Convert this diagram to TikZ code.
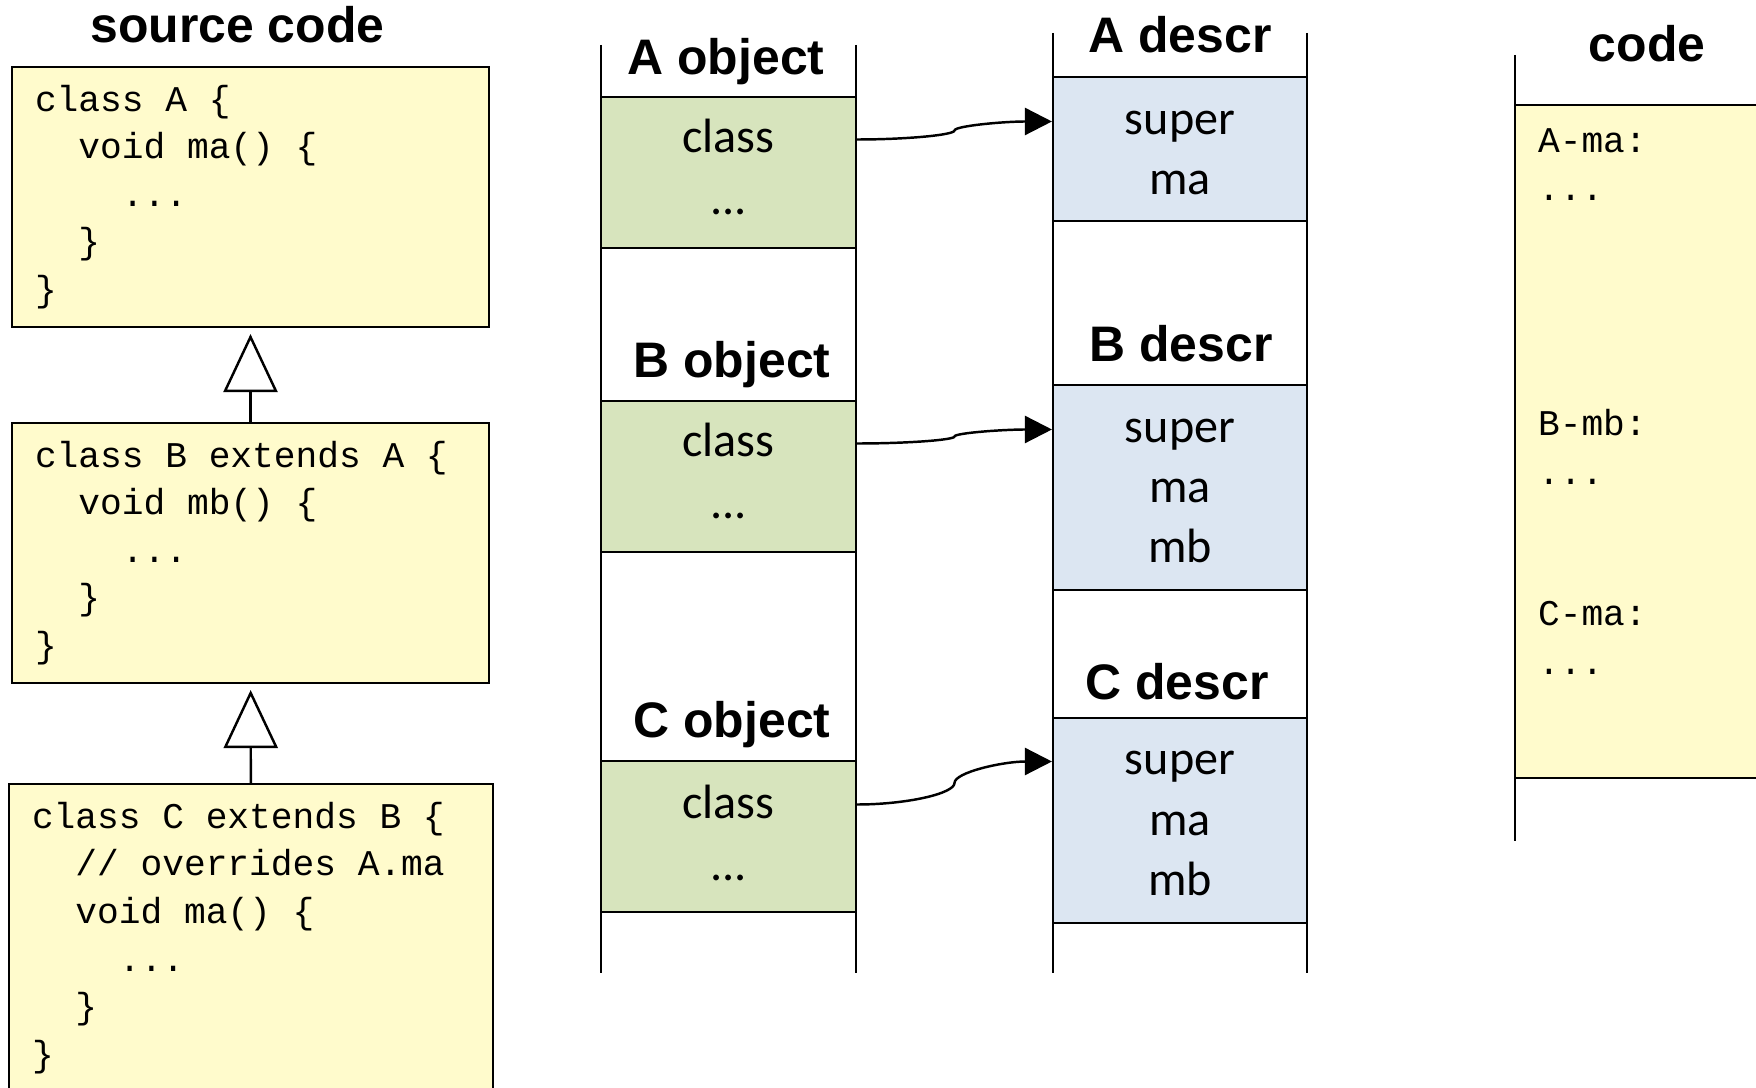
\documentclass[tikz,border=0pt]{standalone}
\usepackage{fontspec}
\setmainfont{Carlito}
\setsansfont{Liberation Sans}
\newfontfamily\codefamily{Liberation Mono}
\usepackage{tikz}
\usetikzlibrary{calc,arrows.meta}
\definecolor{codeyellow}{HTML}{FFFBCC}
\definecolor{objgreen}{HTML}{D7E4BD}
\definecolor{descblue}{HTML}{DCE6F2}
\newcommand\codefnt{\codefamily\fontsize{10.3}{13.55}\selectfont}
% curved pointer: horizontal out, vertical at the middle, horizontal in
\newcommand\ptrcurve[2]{\coordinate(mid)at($(#1)!.5!(#2)$);
  \draw[ptr](#1)..controls($(#1)!.25!(#1-|#2)$)and($(mid|-#1)!.5!(mid)$)..(mid)
    ..controls($(mid)!.5!(mid|-#2)$)and($(#2)!.25!(#2-|#1)$)..(#2);}

\begin{document}
\begin{tikzpicture}[x=0.1mm,y=-0.1mm,line width=0.6pt,
  head/.style={font=\sffamily\bfseries\fontsize{14.2}{17}\selectfont,anchor=base,inner sep=0},
  cell/.style={font=\fontsize{13.7}{16}\selectfont,anchor=base,inner sep=0,text height=3.7mm,text depth=1mm},
  lbl/.style={font=\codefnt,anchor=base west,inner sep=0},
  codebox/.style={draw,fill=codeyellow,inner sep=0},
  codetxt/.style={font=\codefnt,align=left,anchor=west,inner sep=0},
  objbox/.style={draw,fill=objgreen,minimum width=25.5mm,minimum height=15.1mm,inner sep=0},
  descbox/.style={draw,fill=descblue,minimum width=25.4mm,inner sep=0},
  inh/.style={-{Triangle[open,length=5.8mm,width=5.4mm]},line width=0.7pt,shorten >=0.6mm},
  ptr/.style={-{Triangle[length=2.7mm,width=2.7mm]},line width=0.7pt}]
\useasboundingbox(0,0)rectangle(1756,1088);
\clip(0,0)rectangle(1756,1088);

% source code
\node[head](srctitle)at(237.5,43){source code};
\node[codebox,minimum width=47.7mm,minimum height=26mm](srca)at(250.5,197){};
\node[codebox,minimum width=47.7mm,minimum height=26mm](srcb)at(250.5,553){};
\node[codebox,minimum width=48.4mm,minimum height=30.8mm](srcc)at(251,938){};
\node[codetxt](srcatxt)at([xshift=2.3mm]srca.west){class A \{\\\phantom{xx}void ma() \{\\\phantom{xxxx}...\\\phantom{xx}\}\\\}};
\node[codetxt](srcbtxt)at([xshift=2.3mm]srcb.west){class B extends A \{\\\phantom{xx}void mb() \{\\\phantom{xxxx}...\\\phantom{xx}\}\\\}};
\node[codetxt](srcctxt)at([xshift=2.3mm]srcc.west){class C extends B \{\\\phantom{xx}// overrides A.ma\\\phantom{xx}void ma() \{\\\phantom{xxxx}...\\\phantom{xx}\}\\\}};
\draw[inh](srcb)--(srca);\draw[inh](srcc)--(srcb);

% objects
\draw(601,45)--(601,973);\draw(856,45)--(856,973);
\node[head](aobjt)at(726,75){A object};\node[head](bobjt)at(732,378){B object};\node[head](cobjt)at(732,738){C object};
\node[objbox](aobj)at(728.5,172.5){};\node[objbox](bobj)at(728.5,476.5){};\node[objbox](cobj)at(728.5,836.5){};
\node[cell](aclass)at(728.5,153){class};\node[cell](adots)at(728.5,215){...};
\node[cell](bclass)at(728.5,457){class};\node[cell](bdots)at(728.5,519){...};
\node[cell](cclass)at(728.5,818){class};\node[cell](cdots)at(728.5,880){...};

% class descriptors
\draw(1053,33)--(1053,973);\draw(1307,33)--(1307,973);
\node[head](adesct)at(1180,53){A descr};\node[head](bdesct)at(1181,362){B descr};\node[head](cdesct)at(1177,700){C descr};
\node[descbox,minimum height=14.4mm](adescr)at(1180,149){};
\node[descbox,minimum height=20.5mm](bdescr)at(1180,487.5){};
\node[descbox,minimum height=20.5mm](cdescr)at(1180,820.5){};
\node[cell](asuper)at(1180,135){super};\node[cell](ama)at(1180,195){ma};
\node[cell](bsuper)at(1180,443){super};\node[cell](bma)at(1180,503){ma};\node[cell](bmb)at(1180,563){mb};
\node[cell](csuper)at(1180,775){super};\node[cell](cma)at(1180,836){ma};\node[cell](cmb)at(1180,896){mb};

% pointers
\coordinate(as)at(aobj.east|-aclass);\coordinate(ae)at(adescr.west|-asuper);\ptrcurve{as}{ae}
\coordinate(bs)at(bobj.east|-bclass);\coordinate(be)at(bdescr.west|-bsuper);\ptrcurve{bs}{be}
\coordinate(cs)at(cobj.east|-cclass);\coordinate(ce)at(cdescr.west|-csuper);\ptrcurve{cs}{ce}

% code
\node[head](codet)at(1647,62){code};
\draw(1515,55)--(1515,841);
\draw[fill=codeyellow](1515,105)rectangle(1790,778);
\node[lbl](amalbl)at(1537,153){A-ma:};\node[lbl](amadots)at(1537,201){...};
\node[lbl](bmblbl)at(1537,436){B-mb:};\node[lbl](bmbdots)at(1537,485){...};
\node[lbl](cmalbl)at(1537,626){C-ma:};\node[lbl](cmadots)at(1537,675){...};
\end{tikzpicture}
\end{document}
